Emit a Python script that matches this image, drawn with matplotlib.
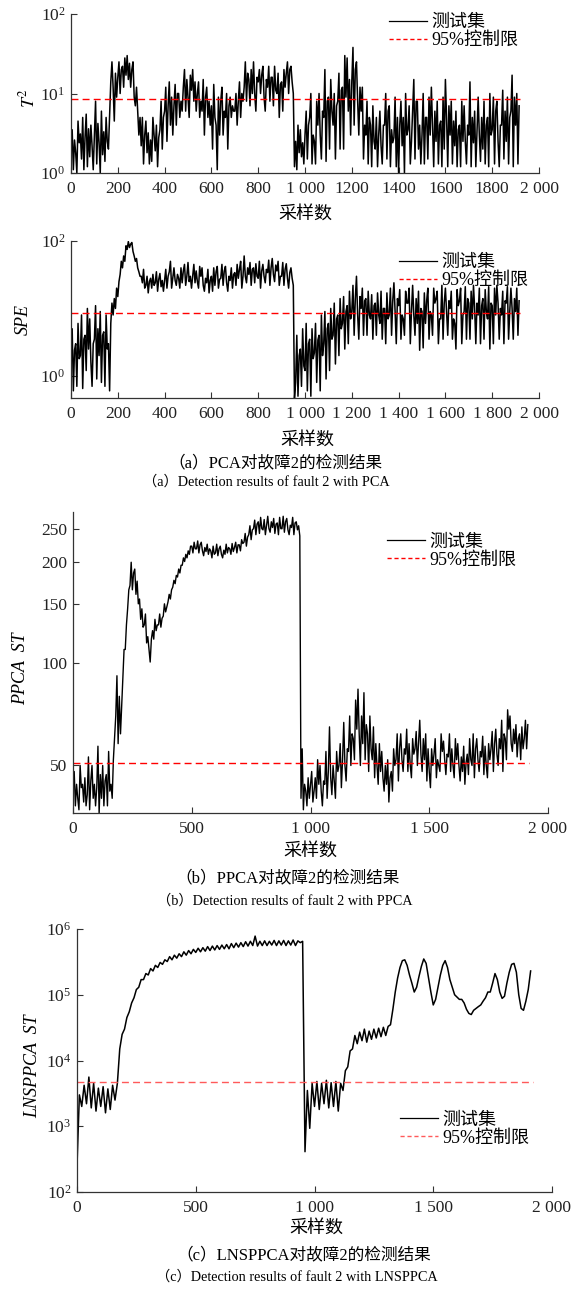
import numpy as np
import matplotlib.pyplot as plt
from matplotlib.ticker import NullLocator
from matplotlib.lines import Line2D

plt.rcParams['font.family'] = ['Liberation Serif', 'Noto Sans CJK SC']
plt.rcParams['mathtext.fontset'] = 'stix'
plt.rcParams['axes.unicode_minus'] = False

# PCA statistics and PPCA ST, read every 5 samples
samples = np.arange(0, 1920, 5)

t2 = [2.2, 3.5, 1.1, 2.6, 1.8, 1.0, 4.5, 2.4, 3.1, 1.5, 5, 1.1, 2.8, 5.5, 1.2, 3.6,
      1.6, 4, 2.2, 1.1, 3, 8, 1.3, 4.2, 2.4, 1.0, 6, 1.7, 3.3, 1.4, 5, 2.5,
      2, 5.5, 14, 25, 12, 4.5, 18, 9, 16, 25, 10, 20, 22, 12, 28, 17,
      30, 15, 24, 12, 20, 25, 9, 7, 12, 6, 3, 5, 2.2, 5, 1.3, 3,
      4.5, 1.8, 3.2, 1.3, 2.6, 1.4, 5, 3, 1.9, 4, 1.2, 2.8, 3.5, 8, 2, 5,
      6, 12, 2.5, 7, 14, 4, 9, 3, 7, 13, 4, 10, 10, 5, 8, 6,
      12, 20, 6, 15, 9, 5, 17, 11, 20, 8, 14, 6, 10, 14, 5, 8,
      6, 15, 3, 9, 12, 5, 8, 4, 7, 2, 13, 5, 4, 1.1, 9, 3,
      8, 12, 3, 6, 5, 10, 2, 7, 9, 5, 7, 6, 6, 10, 4, 8,
      14, 5, 10, 8, 12, 25, 8, 18, 15, 7, 20, 10, 25, 10, 6, 16,
      14, 20, 10, 17, 22, 9, 6, 15, 12, 22, 8, 16, 16, 7, 22, 11,
      10, 18, 5, 13, 14, 6, 20, 12, 18, 25, 10, 20, 22, 14, 10, 1.2,
      2.5, 1.1, 4, 1.8, 3.5, 1.6, 2.4, 1.3, 3, 6, 1.5, 4, 5, 10, 1.3, 3,
      2.5, 1.3, 8, 4, 10, 3, 1.5, 6, 5, 20, 1.4, 8, 9, 2, 15, 6,
      4, 10, 1.5, 7, 8, 18, 2, 11, 12, 2, 30, 9, 28, 6, 15, 3,
      14, 38, 4, 20, 25, 8, 3, 12, 6, 12, 1.5, 4, 3, 8, 1.3, 5,
      4, 1.2, 7, 2.5, 2, 5, 1.2, 3, 6, 2.2, 1.3, 4, 4, 10, 1.5, 6,
      7, 1.2, 3.5, 2.4, 2.8, 9, 1.2, 5, 1.0, 4, 8, 2.2, 5, 1.0, 10, 3,
      3.5, 7, 1.3, 2.5, 6, 15, 1.5, 8, 8, 2, 4, 1.3, 3, 10, 1.3, 5,
      5, 1.5, 9, 3, 12, 4, 1.2, 6, 2.5, 8, 1.3, 4, 4.5, 1.2, 9, 2,
      15, 5, 1.2, 7, 3, 8, 1.3, 4.5, 2.2, 6, 1.2, 3.5, 4, 1.2, 8, 2.5,
      7, 2.5, 1.3, 4, 3, 14, 1.2, 5, 2.4, 6, 1.2, 3.3, 9, 3, 1.4, 5,
      2, 8, 1.3, 4, 5, 1.2, 10, 3, 3.5, 9, 1.3, 6, 8, 2.5, 1.2, 4,
      4, 11, 1.5, 6, 2.5, 9, 1.3, 5, 6, 17, 1.2, 9, 4, 10, 1.3, 7]
t2_limit = 8.45

spe = [1.5, 5, 0.6, 2.4, 3, 0.7, 6, 1.8, 2, 8, 0.65, 3.5, 4, 1.2, 10, 2.5,
       7, 1.6, 0.7, 3, 3.5, 11, 0.9, 5, 2, 9, 0.8, 4, 4.5, 0.7, 8, 2.5,
       3, 0.6, 6, 12, 8, 14, 10, 20, 15, 25, 32, 50, 40, 60, 50, 85,
       75, 98, 80, 90, 95, 70, 60, 50, 55, 40, 35, 30, 30, 24, 38, 20,
       22, 30, 17, 25, 28, 20, 32, 22, 24, 35, 18, 27, 33, 21, 26, 18,
       26, 38, 20, 30, 35, 50, 20, 28, 40, 26, 22, 32, 28, 20, 40, 24,
       36, 45, 22, 30, 48, 25, 30, 20, 30, 45, 24, 36, 25, 20, 42, 30,
       40, 22, 18, 28, 24, 38, 17, 26, 30, 18, 40, 22, 35, 42, 20, 27,
       28, 45, 22, 36, 42, 24, 18, 30, 26, 40, 20, 32, 34, 22, 45, 28,
       38, 50, 20, 30, 60, 30, 24, 40, 32, 48, 22, 38, 40, 24, 46, 30,
       28, 50, 20, 36, 45, 30, 24, 38, 34, 52, 22, 40, 55, 32, 25, 44,
       36, 50, 22, 30, 30, 48, 22, 38, 46, 28, 20, 34, 40, 28, 22, 0.47,
       0.8, 4, 0.5, 2, 2.5, 0.7, 5, 1.4, 1.2, 6, 0.6, 3, 3.5, 0.5, 5, 1.8,
       2.2, 6, 0.8, 3.4, 4, 0.6, 8, 2, 3, 9, 0.9, 5, 6, 1.2, 10, 3.5,
       4, 12, 1.5, 7, 8, 2, 14, 5, 6, 15, 2.5, 9, 11, 3, 18, 7,
       9, 22, 4, 14, 30, 8, 3.5, 15, 10, 20, 4, 13, 14, 4, 18, 8,
       7, 16, 3.5, 11, 12, 4, 17, 8, 6, 18, 3.5, 10, 10, 3, 17, 7,
       8, 20, 4, 13, 24, 9, 3, 14, 11, 19, 3.5, 8, 7, 4, 18, 12,
       12, 20, 3, 9, 22, 8, 4, 14, 6, 18, 2.4, 10, 9, 2.6, 17, 6,
       13, 20, 3.5, 9, 8, 4, 20, 12, 14, 18, 3, 7, 7, 22, 3.5, 12,
       20, 9, 4, 13, 10, 18, 3.5, 7, 6, 2.5, 19, 11, 13, 20, 3, 8,
       9, 21, 3.5, 14, 12, 3.5, 18, 7, 22, 10, 3, 12, 8, 20, 3, 11,
       14, 3.5, 19, 9, 7, 21, 2.5, 12, 11, 3, 20, 8, 22, 12, 3.5, 10,
       8, 18, 3, 13, 12, 21, 3.5, 9, 20, 10, 3.5, 14, 9, 20, 4, 13]
spe_limit = 8.7

ppca = [42, 48, 38, 44, 40, 37, 50, 43, 44, 39, 46, 38, 41, 53, 37, 45,
        50, 40, 44, 38, 43, 57, 36, 47, 40, 50, 38, 45, 47, 38, 55, 42,
        44, 40, 52, 60, 70, 92, 58, 80, 62, 75, 90, 110, 110, 130, 145, 165,
        170, 199, 165, 185, 190, 160, 175, 150, 155, 135, 145, 128, 130, 140, 115, 120,
        110, 101, 118, 125, 118, 135, 125, 130, 130, 140, 128, 136, 138, 150, 142, 147,
        152, 160, 155, 165, 168, 176, 172, 182, 180, 190, 185, 195, 195, 205, 200, 210,
        205, 215, 210, 222, 222, 212, 228, 218, 218, 230, 212, 224, 228, 215, 208, 220,
        214, 225, 210, 218, 215, 205, 222, 210, 212, 225, 208, 218, 222, 210, 205, 216,
        210, 225, 212, 220, 218, 210, 226, 214, 220, 228, 212, 224, 224, 215, 232, 226,
        228, 242, 222, 236, 240, 255, 232, 248, 250, 265, 240, 258, 262, 242, 270, 250,
        248, 266, 240, 256, 272, 250, 244, 262, 252, 268, 242, 258, 260, 240, 270, 250,
        250, 272, 244, 262, 268, 248, 240, 256, 252, 270, 240, 260, 262, 248, 255, 238,
        40, 56, 37, 44, 42, 38, 46, 40, 44, 48, 39, 42, 46, 40, 52, 44,
        50, 42, 38, 45, 44, 55, 40, 48, 65, 46, 41, 50, 45, 40, 55, 48,
        50, 58, 43, 52, 67, 50, 45, 56, 55, 70, 50, 62, 60, 52, 78, 64,
        84, 62, 50, 70, 58, 82, 52, 66, 62, 48, 70, 56, 52, 65, 46, 58,
        50, 44, 58, 48, 55, 46, 42, 50, 44, 52, 39, 46, 48, 42, 56, 50,
        52, 62, 45, 56, 62, 52, 48, 56, 54, 64, 48, 58, 50, 46, 60, 54,
        56, 63, 50, 58, 68, 54, 48, 60, 52, 62, 45, 56, 48, 43, 56, 50,
        54, 60, 46, 52, 50, 48, 62, 55, 59, 52, 47, 54, 53, 62, 48, 56,
        50, 46, 60, 52, 58, 50, 45, 53, 48, 57, 44, 51, 54, 47, 60, 52,
        50, 62, 46, 56, 60, 52, 48, 55, 53, 61, 47, 57, 50, 46, 58, 52,
        56, 63, 48, 58, 64, 54, 50, 60, 56, 68, 48, 62, 60, 52, 73, 64,
        70, 58, 55, 64, 58, 66, 53, 60, 62, 52, 65, 56, 60, 68, 56, 66]
ppca_limit = 51

# LNSPPCA ST, two readings per 20-sample bin (at s and s+10)
bins = np.arange(0, 1920, 20)
lns_a = [250, 2000, 2200, 1900, 1700, 2000, 1600, 1800, 2500, 15000,
         30000, 55000, 90000, 130000, 170000, 200000, 230000, 260000, 290000, 320000,
         340000, 360000, 380000, 400000, 420000, 440000, 450000, 460000, 470000, 480000,
         490000, 500000, 500000, 520000, 530000, 540000, 550000, 560000, 550000, 560000,
         560000, 570000, 560000, 570000, 560000, 570000, 560000, 620000, 410, 930,
         2000, 1800, 2200, 1900, 2000, 1700, 3500, 8000, 15000, 18000,
         20000, 19000, 21000, 22000, 23000, 24000, 35000, 110000, 260000, 340000,
         200000, 110000, 190000, 350000, 180000, 70000, 130000, 280000, 260000, 130000,
         92000, 85000, 60000, 50000, 62000, 70000, 90000, 110000, 210000, 110000,
         95000, 220000, 300000, 100000, 58000, 120000]
lns_b = [3000, 4200, 5600, 4500, 3800, 4000, 3700, 4200, 4500, 25000,
         45000, 75000, 120000, 170000, 210000, 250000, 280000, 310000, 340000, 380000,
         400000, 420000, 450000, 470000, 490000, 510000, 520000, 540000, 550000, 560000,
         570000, 580000, 600000, 610000, 620000, 640000, 650000, 780000, 650000, 660000,
         650000, 670000, 660000, 670000, 660000, 680000, 660000, 650000, 3500, 4500,
         4800, 4500, 5000, 4600, 4800, 4500, 7000, 14000, 24000, 27000,
         30000, 28000, 30000, 31000, 32000, 33000, 60000, 180000, 330000, 280000,
         150000, 130000, 270000, 300000, 110000, 85000, 200000, 330000, 170000, 100000,
         85000, 75000, 52000, 58000, 66000, 80000, 110000, 150000, 170000, 88000,
         150000, 290000, 220000, 62000, 80000, 230000]
lns_limit = 4700

xticks_pca = [0, 200, 400, 600, 800, 1000, 1200, 1400, 1600, 1800, 2000]
xlabels_t2 = ['0', '200', '400', '600', '800', '1 000', '1200', '1400', '1600', '1800', '2 000']
xlabels_spe = ['0', '200', '400', '600', '800', '1 000', '1 200', '1 400', '1 600', '1 800', '2 000']
xticks_st = [0, 500, 1000, 1500, 2000]
xlabels_st = ['0', '500', '1 000', '1 500', '2 000']

lns_x = np.column_stack([bins, bins + 10]).ravel()
lns = np.column_stack([lns_a, lns_b]).ravel()

W, H = 578, 1289
fig = plt.figure(figsize=(W / 100, H / 100), dpi=100)


def axes_px(left, top, right, bottom):
    return fig.add_axes([left / W, 1 - bottom / H, (right - left) / W, (bottom - top) / H])


def fig_text(x, y, s, size):
    fig.text(x / W, 1 - y / H, s, ha='center', va='center', fontsize=size)


ax1 = axes_px(71, 14, 539, 173)
ax2 = axes_px(71, 241, 539, 398)
ax3 = axes_px(73, 512, 548, 813)
ax4 = axes_px(77, 929, 552, 1192)

panels = [
    (ax1, samples, t2, t2_limit, '#ff0000', 1.1),
    (ax2, samples, spe, spe_limit, '#ff0000', 1.1),
    (ax3, samples, ppca, ppca_limit, '#ff0000', 1.0),
    (ax4, lns_x, lns, lns_limit, '#ff5a5a', 1.1),
]

for ax, x, y, limit, red, lw in panels:
    ax.plot(x, y, color='black', lw=lw)
    ax.plot([0, 1920], [limit, limit], color=red, lw=1.0, dashes=(5, 3))
    ax.set_yscale('log')
    ax.set_xlim(0, 2000)
    ax.spines[['top', 'right']].set_visible(False)
    for sp in ('left', 'bottom'):
        ax.spines[sp].set_color('#333333')
        ax.spines[sp].set_linewidth(0.9)
    ax.tick_params(direction='in', length=4, width=0.8, labelsize=12.5,
                   colors='#333333', labelcolor='#222222')
    ax.tick_params(axis='x', pad=6)
    ax.tick_params(axis='y', pad=4)
    ax.yaxis.set_minor_locator(NullLocator())
    ax.xaxis.set_minor_locator(NullLocator())

# PCA T^2
ax1.set_ylim(1, 100)
ax1.set_yticks([1, 10, 100])
ax1.set_xticks(xticks_pca, xlabels_t2)
ax1.set_ylabel('$T^2$', fontsize=13)
ax1.yaxis.set_label_coords(-0.092, 0.47)

# PCA SPE
ax2.set_ylim(0.47, 100)
ax2.set_yticks([1, 100])
ax2.set_xticks(xticks_pca, xlabels_spe)
ax2.set_ylabel('SPE', fontsize=13, fontstyle='italic')
ax2.yaxis.set_label_coords(-0.103, 0.5)

# PPCA ST
ax3.set_ylim(36.2, 280)
ax3.set_yticks([50, 100, 150, 200, 250], ['50', '100', '150', '200', '250'])
ax3.yaxis.set_minor_locator(NullLocator())
ax3.set_xticks(xticks_st, xlabels_st)
ax3.set_ylabel('PPCA  ST', fontsize=13, fontstyle='italic')
ax3.yaxis.set_label_coords(-0.11, 0.48)

# LNSPPCA ST
ax4.set_ylim(1e2, 1e6)
ax4.set_yticks([1e2, 1e3, 1e4, 1e5, 1e6])
ax4.set_xticks(xticks_st, xlabels_st)
ax4.set_ylabel('LNSPPCA  ST', fontsize=13, fontstyle='italic')
ax4.yaxis.set_label_coords(-0.093, 0.48)

for ax in (ax1, ax2, ax3, ax4):
    ax.yaxis.label.set_verticalalignment('center')

# legends
legend_pos = {ax1: (0.68, 1.0), ax2: (0.70, 0.915), ax3: (0.661, 0.928), ax4: (0.68, 0.305)}
for ax, x, y, limit, red, lw in panels:
    handles = [Line2D([], [], color='black', lw=0.9),
               Line2D([], [], color=red, lw=1.0, dashes=(3, 2))]
    ax.legend(handles, ['测试集', '95%控制限'], loc='upper left',
              bbox_to_anchor=legend_pos[ax], frameon=False, fontsize=13,
              handlelength=2.1, handletextpad=0.25, labelspacing=0.05,
              borderpad=0, borderaxespad=0)

# axis titles and captions
fig_text(305, 214, '采样数', 13)
fig_text(307, 440, '采样数', 13)
fig_text(275, 463, '（a）PCA对故障2的检测结果', 12)
fig_text(266, 482, '（a）Detection results of fault 2 with PCA', 10.3)
fig_text(310, 851, '采样数', 13)
fig_text(288, 878, '（b）PPCA对故障2的检测结果', 12)
fig_text(285, 901, '（b）Detection results of fault 2 with PPCA', 10.3)
fig_text(316, 1228, '采样数', 13)
fig_text(304, 1255, '（c）LNSPPCA对故障2的检测结果', 12)
fig_text(297, 1277, '（c）Detection results of fault 2 with LNSPPCA', 10.3)

fig.savefig('out.png', dpi=100, facecolor='white')
